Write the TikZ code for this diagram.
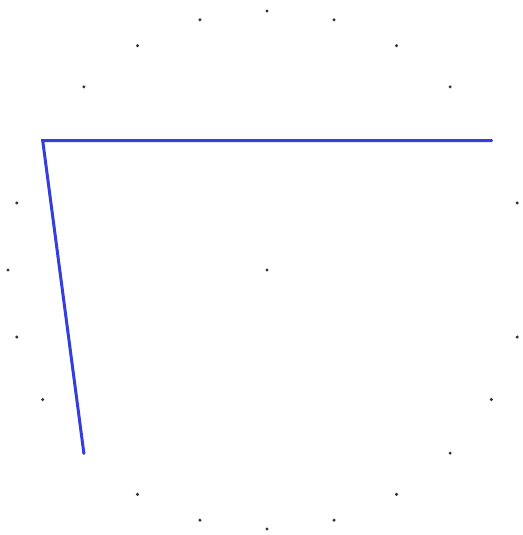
\documentclass[tikz,border=0pt]{standalone}
\usetikzlibrary{calc}
\definecolor{handblue}{RGB}{52,62,222}
\tikzset{
  dot/.style={fill=black!80},
  hand/.style={handblue, line width=3pt, line cap=round, line join=miter}
}
\begin{document}
\begin{tikzpicture}[x=1pt, y=-1pt]
  \useasboundingbox (0, 0) rectangle (522, 535);
  \coordinate (c) at (267, 270);
  \foreach \a in {0, 15, ..., 345}
    \coordinate (p\a) at ($(c) + (\a:259)$);
  % dial points
  \fill[dot] (c) circle (1.7);
  \foreach \a in {0, 15, ..., 345}
    \fill[dot] (p\a) circle (1.7);
  % hands
  \draw[hand] (p330) -- (p210) -- (p135);
\end{tikzpicture}
\end{document}
